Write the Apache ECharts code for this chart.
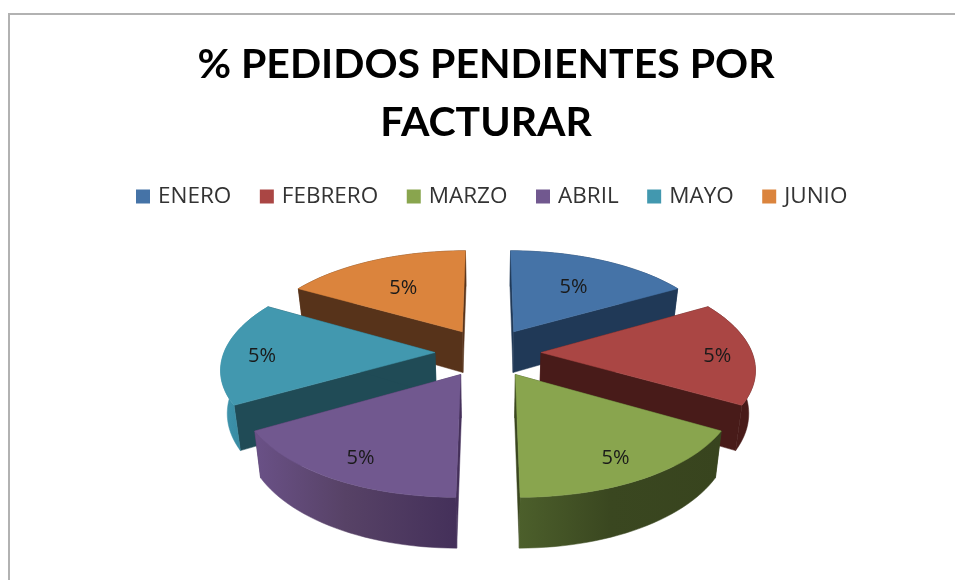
<!DOCTYPE html>
<html>
<head>
<meta charset="utf-8">
<style>html,body{margin:0;padding:0;background:#fff}#c{width:955px;height:580px;filter:blur(0.4px)}</style>
<script src="https://cdn.jsdelivr.net/npm/echarts@6/dist/echarts.min.js"></script>
</head>
<body>
<div id="c"></div>
<script>
const categories = ['ENERO','FEBRERO','MARZO','ABRIL','MAYO','JUNIO'];
const values = [5,5,5,5,5,5];
const topColors = ['#4573A7','#AA4644','#89A54E','#71588F','#4298AF','#DB843D'];
const sideColors = ['#203957','#481B19','#3A461F','#45305A','#204B56','#57331A'];
const wallLeft = ['#203957','#481B19','#4C5F2B','#6A5187','#4095AE','#57331A'];
const wallMid = ['#203957','#481B19','#3A4720','#574266','#3689A0','#57331A'];
const wallRight = ['#203957','#481B19','#38441E','#44305A','#2F7F94','#57331A'];
const paintOrder = [1,2,3,3,2,1];
const labelRadius = [0.65,0.835,0.80,0.80,0.82,0.64];

const cx=488, cy=352.5, R=211, explode=53, tilt=0.465, persp=0.00068, depth=42, converge=0.975;
const total = values.reduce((a,b)=>a+b,0);
function proj(x,y,z){
  const s=1/(1+persp*y), k=z>0?converge:1;
  return [cx+x*s*k, cy-y*tilt*s+z*s];
}
function render(i){
  return function(params,api){
    const before = values.slice(0,i).reduce((a,b)=>a+b,0);
    const a0 = before/total*2*Math.PI, a1 = (before+api.value(0))/total*2*Math.PI, m=(a0+a1)/2;
    const ax = explode*Math.sin(m), ay = explode*Math.cos(m);
    const rim=[];
    for(let k=0;k<=30;k++){const t=a0+(a1-a0)*k/30;rim.push([ax+R*Math.sin(t),ay+R*Math.cos(t)]);}
    const top = rim.map(p=>proj(p[0],p[1],0)), bot = rim.map(p=>proj(p[0],p[1],depth));
    const A0 = proj(ax,ay,0), A1 = proj(ax,ay,depth);
    const poly=(pts,fill)=>({type:'polygon',shape:{points:pts},style:{fill:fill,stroke:fill,lineWidth:0.5}});
    const wallFill = new echarts.graphic.LinearGradient(0,0,1,0,[{offset:0,color:wallLeft[i]},{offset:0.45,color:wallMid[i]},{offset:1,color:wallRight[i]}]);
    const lx = ax+labelRadius[i]*R*Math.sin(m), ly = ay+labelRadius[i]*R*Math.cos(m);
    const L = proj(lx,ly,0);
    return {type:'group',children:[
      poly([A0,top[0],bot[0],A1],sideColors[i]),
      poly([A0,top[30],bot[30],A1],sideColors[i]),
      poly(top.concat(bot.slice().reverse()),wallFill),
      poly([A0].concat(top),topColors[i]),
      {type:'text',style:{text:api.value(0)+'%',x:L[0],y:L[1]+3.5,align:'center',verticalAlign:'middle',fill:'#1a1a1a',font:'20px "Open Sans"'}}
    ]};
  };
}
const chart = echarts.init(document.getElementById('c'),null,{renderer:'canvas'});
chart.setOption({
  animation:false,
  backgroundColor:'#fff',
  title:{text:'% PEDIDOS PENDIENTES POR\nFACTURAR',left:481,top:31,textAlign:'center',
    textStyle:{fontFamily:'Lato',fontWeight:'bold',fontSize:41,lineHeight:58,color:'#000'}},
  legend:{data:categories,top:180,left:131,icon:'rect',itemWidth:14,itemHeight:14,itemGap:28.5,
    textStyle:{fontFamily:'"Open Sans"',fontSize:22.5,color:'#333',padding:[0,0,0,3]}},
  graphic:[{type:'rect',shape:{x:9,y:14,width:1000,height:700},style:{fill:'none',stroke:'#b2b2b2',lineWidth:2}}],
  series:categories.map((name,i)=>({
    type:'custom',name:name,coordinateSystem:'none',z:paintOrder[i]+2,
    itemStyle:{color:topColors[i]},clip:false,silent:true,
    renderItem:render(i),data:[[values[i]]]
  }))
});
</script>
</body>
</html>
